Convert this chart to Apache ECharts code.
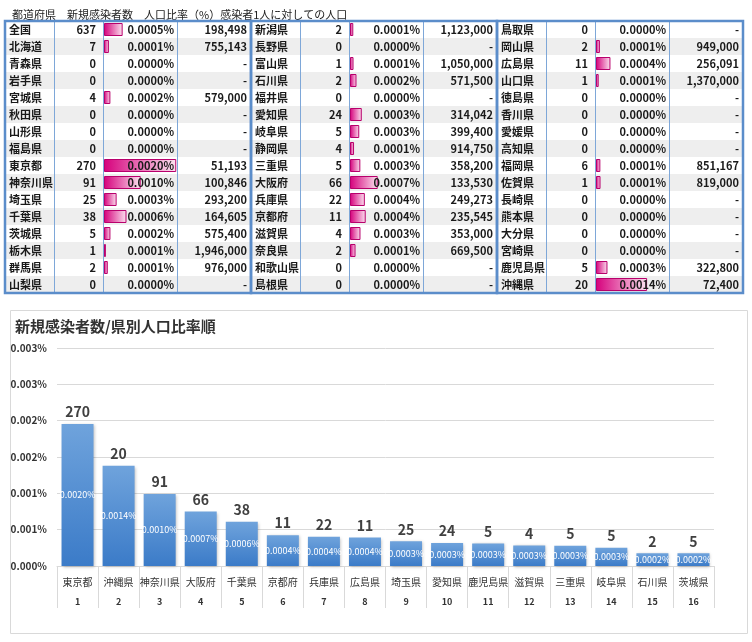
<!DOCTYPE html>
<html lang="ja">
  <head>
    <meta charset="UTF-8" />
    <title>新規感染者数/県別人口比率順</title>
    <script src="https://cdn.jsdelivr.net/npm/echarts@6.0.0/dist/echarts.min.js"></script>
    <style>
      body { margin: 0; background: #fff; }
    </style>
  </head>
  <body>
    <div id="main" style="width: 752px; height: 642px"></div>

    <script type="text/javascript">
      // table: three blocks of 16 rows (name, new cases, ratio %, population per case)
      const prefNames = [
        "全国", "北海道", "青森県", "岩手県", "宮城県", "秋田県", "山形県", "福島県",
        "東京都", "神奈川県", "埼玉県", "千葉県", "茨城県", "栃木県", "群馬県", "山梨県",
        "新潟県", "長野県", "富山県", "石川県", "福井県", "愛知県", "岐阜県", "静岡県",
        "三重県", "大阪府", "兵庫県", "京都府", "滋賀県", "奈良県", "和歌山県", "島根県",
        "鳥取県", "岡山県", "広島県", "山口県", "徳島県", "香川県", "愛媛県", "高知県",
        "福岡県", "佐賀県", "長崎県", "熊本県", "大分県", "宮崎県", "鹿児島県", "沖縄県",
      ];
      const prefCounts = [
        637, 7, 0, 0, 4, 0, 0, 0, 270, 91, 25, 38, 5, 1, 2, 0,
        2, 0, 1, 2, 0, 24, 5, 4, 5, 66, 22, 11, 4, 2, 0, 0,
        0, 2, 11, 1, 0, 0, 0, 0, 6, 1, 0, 0, 0, 0, 5, 20,
      ];
      const prefRatios = [
        0.000504, 0.0001324, 0, 0, 0.0001727, 0, 0, 0,
        0.001953, 0.000992, 0.000341, 0.000608, 0.0001738, 0.0000514, 0.0001025, 0,
        0.000089, 0, 0.0000952, 0.000175, 0, 0.000318, 0.0002504, 0.0001093,
        0.0002792, 0.000749, 0.000401, 0.0004246, 0.0002833, 0.0001494, 0, 0,
        0, 0.0001054, 0.0003905, 0.000073, 0, 0, 0, 0,
        0.0001175, 0.0001221, 0, 0, 0, 0, 0.0003098, 0.001381,
      ];
      const prefPerCase = [
        198498, 755143, null, null, 579000, null, null, null,
        51193, 100846, 293200, 164605, 575400, 1946000, 976000, null,
        1123000, null, 1050000, 571500, null, 314042, 399400, 914750,
        358200, 133530, 249273, 235545, 353000, 669500, null, null,
        null, 949000, 256091, 1370000, null, null, null, null,
        851167, 819000, null, null, null, null, 322800, 72400,
      ];

      // bar chart (sorted by ratio)
      const chartNames = [
        "東京都", "沖縄県", "神奈川県", "大阪府", "千葉県", "京都府", "兵庫県", "広島県",
        "埼玉県", "愛知県", "鹿児島県", "滋賀県", "三重県", "岐阜県", "石川県", "茨城県",
      ];
      const chartRanks = ["1", "2", "3", "4", "5", "6", "7", "8", "9", "10", "11", "12", "13", "14", "15", "16"];
      const chartRatios = [
        0.001953, 0.001381, 0.000992, 0.000749, 0.000608, 0.0004246, 0.000401, 0.0003905,
        0.000341, 0.000318, 0.0003098, 0.0002833, 0.0002792, 0.0002504, 0.000175, 0.0001738,
      ];
      const chartCounts = [270, 20, 91, 66, 38, 11, 22, 11, 25, 24, 5, 4, 5, 5, 2, 5];
      const yTickLabels = ["0.000%", "0.001%", "0.001%", "0.002%", "0.002%", "0.003%", "0.003%"];

      const FONT = "'Noto Sans CJK JP', 'Noto Sans', sans-serif";
      const ROWS = 16;
      const blockLeft = [5, 251, 497];
      const fmtRatio = (v) => (Math.round(v * 10000) / 10000).toFixed(4) + "%";
      const fmtInt = (v) => v.toLocaleString("en-US");

      let myChart = echarts.init(document.getElementById("main"));

      const grids = [], xAxes = [], yAxes = [], series = [], borders = [];
      const rowIdx = [];
      for (let i = 0; i < ROWS; i++) rowIdx.push(i);

      blockLeft.forEach((bx, b) => {
        const off = b * ROWS;
        grids.push({ left: bx + 99, top: 21, width: 74, height: 272 });
        xAxes.push({ type: "value", gridIndex: b, min: 0, max: 0.002, show: false });
        yAxes.push({ type: "category", gridIndex: b, data: rowIdx, inverse: true, show: false });
        const rowsData = rowIdx.map((i) => [0, i]);

        // row backgrounds and thin cell lines
        series.push({
          type: "custom",
          xAxisIndex: b,
          yAxisIndex: b,
          z: 1,
          silent: true,
          data: rowsData,
          encode: { x: 0, y: 1 },
          renderItem: (params, api) => {
            const i = api.value(1);
            const c = api.coord([0, i]);
            const h = api.size([0, 1])[1];
            const x0 = c[0] - 99, y0 = c[1] - h / 2;
            const line = { stroke: "#7ea7d8", lineWidth: 1 };
            const children = [
              { type: "rect", shape: { x: x0, y: y0, width: 246, height: h }, style: { fill: i % 2 ? "#eeeeee" : "#ffffff" } },
            ];
            [49, 98, 172].forEach((dx) =>
              children.push({ type: "line", shape: { x1: x0 + dx + 0.5, y1: y0, x2: x0 + dx + 0.5, y2: y0 + h }, style: line })
            );
            children.push({ type: "line", shape: { x1: x0, y1: y0 + h + 0.5, x2: x0 + 246, y2: y0 + h + 0.5 }, style: line });
            return { type: "group", children };
          },
        });

        // data bars
        series.push({
          type: "bar",
          xAxisIndex: b,
          yAxisIndex: b,
          z: 2,
          silent: true,
          barWidth: 13,
          data: prefRatios.slice(off, off + ROWS).map((v) => (v > 0 ? v : null)),
          itemStyle: {
            color: new echarts.graphic.LinearGradient(0, 0, 1, 0, [
              { offset: 0, color: "#d6007c" },
              { offset: 1, color: "#fbe2ef" },
            ]),
            borderColor: "#b8006c",
            borderWidth: 1,
          },
        });

        // cell texts
        series.push({
          type: "custom",
          xAxisIndex: b,
          yAxisIndex: b,
          z: 3,
          silent: true,
          data: rowsData,
          encode: { x: 0, y: 1 },
          renderItem: (params, api) => {
            const i = api.value(1);
            const k = off + i;
            const c = api.coord([0, i]);
            const x0 = c[0] - 99, y = c[1];
            const txt = (x, text, align) => ({
              type: "text",
              style: {
                x: x, y: y, text: text, textAlign: align, textVerticalAlign: "middle",
                fontFamily: FONT, fontSize: 11, fontWeight: "bold", fill: "#1a1a1a",
              },
            });
            return {
              type: "group",
              children: [
                txt(x0 + 4, prefNames[k], "left"),
                txt(x0 + 91, String(prefCounts[k]), "right"),
                txt(x0 + 169, fmtRatio(prefRatios[k]), "right"),
                txt(x0 + 242, prefPerCase[k] == null ? "-" : fmtInt(prefPerCase[k]), "right"),
              ],
            };
          },
        });

        borders.push({
          type: "rect",
          z: 100,
          silent: true,
          shape: { x: bx, y: 21, width: 246, height: 272 },
          style: { fill: null, stroke: "#5b8dca", lineWidth: 2.5 },
        });
      });

      // bottom bar chart
      const g = grids.length;
      grids.push({ left: 57, right: 38, top: 348, bottom: 76 });
      xAxes.push({
        type: "category",
        gridIndex: g,
        data: chartNames,
        axisLine: { lineStyle: { color: "#d9d9d9" } },
        axisTick: { show: true, interval: 0, length: 42, lineStyle: { color: "#d9d9d9" } },
        axisLabel: {
          interval: 0,
          margin: 6,
          formatter: (v, i) => "{n|" + v + "}\n{r|" + chartRanks[i] + "}",
          rich: {
            n: { fontFamily: FONT, fontSize: 10, color: "#333", lineHeight: 20 },
            r: { fontFamily: FONT, fontSize: 9, fontWeight: "bold", color: "#333", lineHeight: 20 },
          },
        },
      });
      yAxes.push({
        type: "value",
        gridIndex: g,
        min: 0,
        max: 0.003,
        interval: 0.0005,
        axisLine: { show: false },
        axisTick: { show: false },
        splitLine: { lineStyle: { color: "#d9d9d9" } },
        axisLabel: {
          margin: 10,
          fontFamily: FONT,
          fontSize: 10,
          fontWeight: "bold",
          color: "#333",
          formatter: (v) => yTickLabels[Math.round(v / 0.0005)],
        },
      });
      series.push({
        type: "bar",
        xAxisIndex: g,
        yAxisIndex: g,
        barWidth: 32,
        data: chartRatios,
        itemStyle: {
          color: new echarts.graphic.LinearGradient(0, 0, 0, 1, [
            { offset: 0, color: "#6fa3dc" },
            { offset: 1, color: "#3b7bc8" },
          ]),
          shadowColor: "rgba(0,0,0,0.25)",
          shadowBlur: 3,
          shadowOffsetX: 1,
          shadowOffsetY: 1,
        },
        label: {
          show: true,
          position: "inside",
          fontFamily: FONT,
          fontSize: 9,
          color: "#fff",
          formatter: (p) => fmtRatio(p.value),
        },
      });
      series.push({
        type: "bar",
        xAxisIndex: g,
        yAxisIndex: g,
        barWidth: 32,
        barGap: "-100%",
        data: chartRatios,
        itemStyle: { color: "rgba(0,0,0,0)" },
        label: {
          show: true,
          position: "top",
          distance: 5,
          fontFamily: FONT,
          fontSize: 14,
          fontWeight: "bold",
          color: "#404040",
          formatter: (p) => String(chartCounts[p.dataIndex]),
        },
      });

      const options = {
        animation: false,
        title: [
          {
            text: "都道府県　新規感染者数　人口比率（%）感染者1人に対しての人口",
            left: 7,
            top: 4,
            textStyle: { fontFamily: FONT, fontSize: 11, fontWeight: "normal", color: "#222" },
          },
          {
            text: "新規感染者数/県別人口比率順",
            left: 10,
            top: 314,
            textStyle: { fontFamily: FONT, fontSize: 15, fontWeight: "bold", color: "#333" },
          },
        ],
        grid: grids,
        xAxis: xAxes,
        yAxis: yAxes,
        series: series,
        graphic: borders.concat([
          {
            type: "rect",
            z: -1,
            silent: true,
            shape: { x: 10.5, y: 310.5, width: 737, height: 323 },
            style: { fill: null, stroke: "#d9d9d9", lineWidth: 1 },
          },
        ]),
      };

      myChart.setOption(options);
    </script>
  </body>
</html>
